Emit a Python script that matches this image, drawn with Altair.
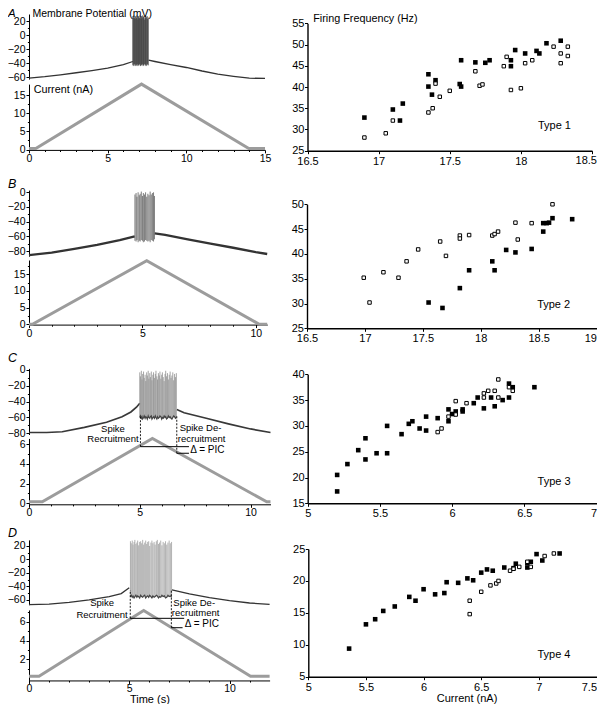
import altair as alt
import pandas as pd

FONT = "Liberation Sans"
W, H = 589, 696
M = 8  # page margin: page px -> chart px

# ======================= DATA =======================
# Membrane potential baseline before / after the burst (time s, mV)
A_pre_t = [0, 1, 2, 3, 4, 5, 6, 6.6]
A_pre_v = [-61, -59, -56.5, -53.5, -50.5, -47, -42, -37.5]
A_post_t = [7.6, 8, 9, 10, 11, 12, 13, 14, 15]
A_post_v = [-35.5, -37.5, -42, -46, -51, -55.3, -58.5, -61.2, -61.5]
B_pre_t = [0, 1, 2, 3, 4, 4.66]
B_pre_v = [-85.5, -82, -77, -71.5, -65, -60]
B_post_t = [5.54, 6, 7, 8, 9, 10, 10.5]
B_post_v = [-56, -58, -64, -70, -75.5, -81.5, -84]
C_pre_t = [0, 0.8, 1.5, 2.5, 3.5, 4.2, 4.6, 4.85, 5.0]
C_pre_v = [-79, -79, -78, -72.5, -66, -59, -53, -47, -42]
C_post_t = [6.67, 7, 8, 9, 10, 10.9]
C_post_v = [-50, -54, -61, -68, -74.5, -79]
D_pre_t = [0, 1, 2, 3, 4, 4.6, 5.0]
D_pre_v = [-67, -66, -63.5, -60, -55, -50.5, -42]
D_post_t = [7.13, 8, 9, 10, 11, 12]
D_post_v = [-45, -51, -56.5, -61, -64.5, -66.5]

# Spikes: time (s), peak (mV), trough (mV)
A_sp_t = [6.60, 6.63, 6.66, 6.70, 6.73, 6.76, 6.79, 6.83, 6.86, 6.89, 6.92, 6.96, 6.99, 7.02, 7.05, 7.09,
          7.12, 7.15, 7.18, 7.22, 7.25, 7.28, 7.31, 7.35, 7.38, 7.41, 7.44, 7.48, 7.51, 7.54, 7.58]
A_sp_pk = [27, 25, 28, 24, 26, 27, 23, 25, 28, 26, 22, 27, 25, 24, 28, 26, 23, 27, 25, 28,
           24, 26, 27, 22, 25, 28, 24, 26, 27, 23, 25]
A_sp_tr = [-43, -42, -44, -41, -43, -42, -44, -43, -41, -42, -44, -43, -42, -41, -43, -44, -42, -43, -41, -42,
           -44, -43, -42, -41, -43, -42, -44, -43, -41, -42, -43]
B_sp_t = [4.67, 4.72, 4.76, 4.81, 4.86, 4.90, 4.95, 5.00, 5.04, 5.09, 5.14, 5.19, 5.24, 5.29, 5.34, 5.39,
          5.44, 5.49, 5.53]
B_sp_pk = [-3, -1, -6, 0, -4, -2, 1, -5, -1, -3, 0, -6, -2, -4, 1, -3, -1, 0, -5]
B_sp_tr = [-66, -67, -65, -68, -66, -67, -65, -66, -68, -67, -65, -66, -67, -66, -68, -65, -66, -67, -64]
C_sp_t = [5.00, 5.03, 5.07, 5.10, 5.13, 5.17, 5.20, 5.24, 5.27, 5.31, 5.34, 5.38, 5.41, 5.45, 5.48, 5.52,
          5.55, 5.59, 5.62, 5.66, 5.70, 5.73, 5.77, 5.80, 5.84, 5.88, 5.91, 5.95, 5.99, 6.02, 6.06, 6.10,
          6.14, 6.17, 6.21, 6.25, 6.29, 6.33, 6.37, 6.41, 6.45, 6.49, 6.53, 6.57, 6.61, 6.65]
C_sp_pk = [-3, -8, -1, -12, -5, -2, -10, -6, -14, -3, -7, -1, -11, -4, -9, -2, -13, -6, -3, -10,
           -5, -1, -8, -12, -4, -7, -2, -11, -6, -3, -9, -14, -5, -1, -8, -4, -12, -6, -2, -10,
           -7, -3, -13, -5, -9, -4]
C_sp_tr = [-60, -58, -61, -59, -62, -60, -58, -61, -59, -60, -62, -58, -60, -61, -59, -58, -62, -60, -59, -61,
           -58, -60, -62, -59, -61, -60, -58, -59, -62, -60, -61, -58, -60, -59, -62, -61, -58, -60, -59, -61,
           -62, -60, -58, -59, -61, -60]
D_sp_t = [5.06, 5.10, 5.15, 5.19, 5.24, 5.28, 5.33, 5.38, 5.42, 5.47, 5.52, 5.57, 5.62, 5.67, 5.72, 5.77,
          5.82, 5.87, 5.92, 5.97, 6.02, 6.08, 6.13, 6.18, 6.24, 6.29, 6.35, 6.40, 6.46, 6.51, 6.57, 6.63,
          6.69, 6.75, 6.81, 6.87, 6.93, 6.99, 7.05, 7.11]
D_sp_pk = [27, 24, 28, 22, 26, 29, 23, 25, 28, 21, 26, 27, 24, 29, 22, 25, 28, 23, 26, 27,
           20, 25, 28, 24, 26, 22, 27, 29, 23, 25, 28, 21, 26, 24, 27, 22, 25, 28, 24, 26]
D_sp_tr = [-55, -53, -56, -54, -57, -55, -53, -56, -54, -55, -57, -53, -55, -56, -54, -53, -57, -55, -54, -56,
           -53, -55, -57, -54, -56, -55, -53, -54, -57, -55, -56, -53, -55, -54, -57, -56, -53, -55, -54, -56]

# Injected current ramps (time s, nA)
A_ramp_t = [0, 0.43, 7.15, 13.97, 15]
A_ramp_i = [0.3, 0.3, 18.0, 0.3, 0.3]
B_ramp_t = [0, 0.15, 5.19, 10.15, 10.5]
B_ramp_i = [0, 0, 19.1, 0, 0]
C_ramp_t = [0, 0.6, 5.57, 10.73, 10.9]
C_ramp_i = [0.15, 0.15, 6.6, 0.15, 0.15]
D_ramp_t = [0, 0.5, 5.72, 11.05, 12]
D_ramp_i = [0.2, 0.2, 7.2, 0.2, 0.2]

# Recruitment annotations (time s, current nA)
C_dash_t = [5.03, 6.67]
C_dash_lo = [5.76, 5.09]
C_dash_hi = [8.98, 8.98]
C_hl_t = [5.03, 6.67]
C_hl_t2 = [7.22, 7.22]
C_hl_i = [5.76, 5.09]
C_lab = ["Spike", "Recruitment", "Spike De-", "recruitment"]
C_lab_t = [3.79, 3.79, 7.74, 7.79]
C_lab_i = [7.53, 6.51, 7.63, 6.57]
C_pic_t = [7.28]
C_pic_i = [5.42]
D_dash_t = [5.05, 7.10]
D_dash_lo = [6.36, 5.36]
D_dash_hi = [9.37, 9.37]
D_hl_t = [5.05, 7.10]
D_hl_t2 = [7.74, 7.66]
D_hl_i = [6.36, 5.36]
D_lab = ["Spike", "Recruitment", "Spike De-", "recruitment"]
D_lab_t = [3.645, 3.645, 8.24, 8.31]
D_lab_i = [7.96, 6.74, 8.0, 6.92]
D_pic_t = [7.77]
D_pic_i = [5.8]

# f-I relations: current (nA) vs firing frequency (Hz); filled = ascending, open = descending ramp
A_fill_x = [16.90, 17.10, 17.15, 17.17, 17.35, 17.35, 17.375, 17.40, 17.57, 17.58, 17.58, 17.68, 17.75, 17.78,
            17.93, 17.93, 17.96, 18.03, 18.11, 18.13, 18.18, 18.28]
A_fill_y = [32.8, 34.7, 32.1, 36.1, 43.0, 40.1, 38.2, 41.6, 40.7, 46.3, 40.1, 45.8, 45.7, 46.3,
            46.3, 44.9, 48.7, 47.9, 48.5, 47.9, 50.3, 50.9]
A_open_x = [16.90, 17.05, 17.10, 17.35, 17.38, 17.40, 17.43, 17.50, 17.68, 17.71, 17.73, 17.88, 17.90, 17.93,
            18.00, 18.03, 18.08, 18.23, 18.28, 18.28, 18.33, 18.33]
A_open_y = [28.1, 29.1, 32.1, 34.0, 35.0, 40.8, 37.7, 39.1, 43.7, 40.3, 40.6, 44.9, 47.1, 39.3,
            39.7, 45.6, 46.3, 49.5, 47.9, 45.6, 49.5, 47.3]
B_fill_x = [17.55, 17.67, 17.82, 17.90, 18.10, 18.12, 18.22, 18.30, 18.44, 18.54, 18.54, 18.57, 18.59, 18.62, 18.79]
B_fill_y = [30.2, 29.1, 33.1, 36.7, 38.5, 36.7, 40.8, 40.3, 41.0, 44.5, 46.2, 46.2, 46.3, 47.2, 47.0]
B_open_x = [16.99, 17.04, 17.16, 17.29, 17.36, 17.46, 17.65, 17.70, 17.82, 17.82, 17.90, 18.10, 18.12, 18.15,
            18.30, 18.32, 18.44, 18.62]
B_open_y = [35.2, 30.2, 36.3, 35.2, 38.5, 40.9, 42.5, 39.6, 43.7, 43.1, 43.8, 43.7, 44.0, 44.5,
            46.3, 42.9, 46.2, 50.0]
C_fill_x = [5.204, 5.204, 5.275, 5.35, 5.40, 5.40, 5.477, 5.55, 5.55, 5.65, 5.70, 5.725, 5.775, 5.82, 5.82, 5.90,
            5.975, 5.975, 6.00, 6.025, 6.073, 6.073, 6.15, 6.177, 6.22, 6.27, 6.295, 6.35, 6.394, 6.394, 6.42, 6.57]
C_fill_y = [17.3, 20.5, 22.6, 25.3, 27.6, 23.5, 24.7, 30.0, 24.7, 28.4, 30.4, 30.9, 29.5, 31.8, 29.1, 31.5,
            33.2, 30.9, 32.3, 32.8, 33.2, 32.8, 34.4, 35.5, 33.4, 35.5, 33.8, 35.0, 38.2, 35.5, 37.5, 37.5]
C_open_x = [5.90, 5.927, 5.975, 6.025, 6.025, 6.10, 6.22, 6.22, 6.25, 6.295, 6.32, 6.32, 6.394, 6.42]
C_open_y = [28.8, 29.5, 31.8, 32.2, 34.8, 34.4, 36.3, 35.5, 36.8, 36.8, 39.0, 35.5, 37.5, 36.8]
D_fill_x = [5.354, 5.50, 5.58, 5.65, 5.75, 5.876, 5.93, 6.00, 6.10, 6.18, 6.20, 6.30, 6.38, 6.43, 6.50, 6.55,
            6.60, 6.70, 6.78, 6.80, 6.90, 6.90, 6.93, 6.98, 7.03, 7.18]
D_fill_y = [9.4, 13.2, 14.0, 15.3, 16.0, 17.5, 16.9, 18.7, 17.9, 18.1, 19.8, 19.7, 20.4, 20.1, 21.3, 21.8,
            21.6, 22.1, 22.0, 22.7, 22.1, 22.8, 23.0, 24.2, 23.2, 24.3]
D_open_x = [6.40, 6.40, 6.50, 6.58, 6.63, 6.65, 6.75, 6.78, 6.83, 6.90, 6.93, 7.05, 7.13]
D_open_y = [14.8, 16.9, 18.3, 19.3, 19.6, 20.0, 21.6, 21.9, 22.2, 23.0, 22.2, 23.9, 24.3]

# Tick values
A_v_ticks, A_v_minor = [-60, -40, -20, 0, 20], [-50, -30, -10, 10]
B_v_ticks, B_v_minor = [-80, -60, -40, -20, 0], [-70, -50, -30, -10]
C_v_ticks, C_v_minor = [-80, -60, -40, -20, 0], [-70, -50, -30, -10]
D_v_ticks, D_v_minor = [-60, -40, -20, 0, 20], [-50, -30, -10, 10]
A_i_ticks, A_i_minor = [0, 5, 10, 15], [2.5, 7.5, 12.5]
B_i_ticks, B_i_minor = [0, 5, 10, 15], [2.5, 7.5, 12.5, 17.5]
C_i_ticks, C_i_minor = [0, 2, 4, 6], [1, 3, 5]
D_i_ticks, D_i_minor = [2, 4, 6], [1, 3, 5, 7]
A_t_ticks, A_t_minor = [0, 5, 10, 15], [1, 2, 3, 4, 6, 7, 8, 9, 11, 12, 13, 14]
B_t_ticks, B_t_minor = [0, 5, 10], [1, 2, 3, 4, 6, 7, 8, 9]
C_t_ticks, C_t_minor = [0, 5, 10], [1, 2, 3, 4, 6, 7, 8, 9]
D_t_ticks, D_t_minor = [0, 5, 10], [1, 2, 3, 4, 6, 7, 8, 9, 11]
A_fx_ticks, A_fy_ticks = [16.5, 17, 17.5, 18, 18.5], [25, 30, 35, 40, 45, 50, 55]
B_fx_ticks, B_fy_ticks = [16.5, 17, 17.5, 18, 18.5, 19], [25, 30, 35, 40, 45, 50]
C_fx_ticks, C_fy_ticks = [5, 5.5, 6, 6.5, 7], [15, 20, 25, 30, 35, 40]
D_fx_ticks, D_fy_ticks = [5, 5.5, 6, 6.5, 7, 7.5], [5, 10, 15, 20, 25]

# ======================= LAYOUT (page pixels) =======================
LEFT = {
    "A": dict(t=[0, 15], tx=[29, 265], v=[-62.5, 30], vy=[79.1, 14.0], i=[-0.1, 18], iy=[149.9, 84.1]),
    "B": dict(t=[0, 10.5], tx=[29, 267.2], v=[-87, 3], vy=[256.2, 190.1], i=[-0.1, 19.3], iy=[324.6, 260.0]),
    "C": dict(t=[0, 10.9], tx=[29, 270.5], v=[-81.5, 2], vy=[434.5, 368.4], i=[-0.1, 6.6], iy=[504.3, 438.4]),
    "D": dict(t=[0, 12], tx=[29, 269.6], v=[-67, 29], vy=[604.7, 539.9], i=[-0.25, 7.25], iy=[680.45, 609.95]),
}
RIGHT = {
    "A": dict(x=[16.5, 18.5], px=[307.5, 592], y=[25, 55], py=[150.7, 23.3], pad=1.5),
    "B": dict(x=[16.5, 19], px=[307, 596.5], y=[25, 50], py=[328.3, 204.3], pad=1.5),
    "C": dict(x=[5, 7], px=[307.7, 596.5], y=[15, 40], py=[503.3, 374.3], pad=1.5),
    "D": dict(x=[5, 7.5], px=[308.3, 596.5], y=[5, 25], py=[676.7, 549], pad=2),
}

LABEL = "replace(datum.value + '', '-', '\u2212')"


def sc(domain, rng):
    return alt.Scale(domain=domain, range=[r - M for r in rng], zero=False, nice=False)


def _axis(orient, values, offset, minor, fs, pad, size, dw, expr):
    kw = dict(orient=orient, offset=offset, values=values, title=None, grid=False,
              tickSize=size, tickColor="black", tickWidth=1, domainColor="black", domainWidth=dw,
              labelColor="black", labelFont=FONT, labelFontSize=fs, labelPadding=pad,
              labelOverlap=False, labelFlush=False, labelExpr=expr or LABEL)
    if minor:
        kw.update(labels=False, domain=False, tickSize=1.6)
    return alt.Axis(**kw)


def y_axis(values, page_x, minor=False, fs=11, pad=1, size=3, dw=1, expr=None):
    return _axis("left", values, -(page_x - M), minor, fs, pad, size, dw, expr)


def x_axis(values, page_y, minor=False, fs=11, pad=1, size=3, dw=1, expr=None):
    return _axis("bottom", values, (page_y - M) - H, minor, fs, pad, size, dw, expr)


def texts(xs, ys, labels, xsc, ysc, align="center", fs=11, baseline="middle", dx=0, dy=0):
    df = pd.DataFrame({"x": xs, "y": ys, "s": labels})
    return alt.Chart(df).mark_text(align=align, baseline=baseline, fontSize=fs, font=FONT, color="black",
                                   dx=dx, dy=dy).encode(
        x=alt.X("x:Q", scale=xsc, axis=None), y=alt.Y("y:Q", scale=ysc, axis=None), text="s:N")


def left_panel(P, pre_t, pre_v, post_t, post_v, sp_t, sp_pk, sp_tr, r_t, r_i,
               v_ticks, v_minor, i_ticks, i_minor, t_ticks, t_minor, vm_color, vm_width, sp_color, trough):
    g = LEFT[P]
    tsc, vsc, isc = sc(g["t"], g["tx"]), sc(g["v"], g["vy"]), sc(g["i"], g["iy"])
    ax_x, ax_y = g["tx"][0], g["iy"][0]
    out = []
    ramp = pd.DataFrame({"t": r_t, "i": r_i})
    out.append(alt.Chart(ramp).mark_line(color="#9c9c9c", strokeWidth=3).encode(
        x=alt.X("t:Q", scale=tsc, axis=x_axis(t_ticks, ax_y, fs=10.5, pad=0.5)),
        y=alt.Y("i:Q", scale=isc, axis=y_axis(i_ticks, ax_x, fs=10.5, pad=1))))
    out.append(alt.Chart(ramp).mark_line(opacity=0).encode(
        x=alt.X("t:Q", scale=tsc, axis=x_axis(t_minor, ax_y, minor=True)),
        y=alt.Y("i:Q", scale=isc, axis=y_axis(i_minor, ax_x, minor=True))))
    vm = pd.DataFrame({"t": pre_t + post_t, "v": pre_v + post_v,
                       "seg": ["pre"] * len(pre_t) + ["post"] * len(post_t)})
    out.append(alt.Chart(vm).mark_line(color=vm_color, strokeWidth=vm_width).encode(
        x=alt.X("t:Q", scale=tsc, axis=None),
        y=alt.Y("v:Q", scale=vsc, axis=y_axis(v_ticks, ax_x, fs=10.5, pad=1)),
        detail="seg:N"))
    out.append(alt.Chart(vm).mark_line(opacity=0).encode(
        x=alt.X("t:Q", scale=tsc, axis=None),
        y=alt.Y("v:Q", scale=vsc, axis=y_axis(v_minor, ax_x, minor=True)),
        detail="seg:N"))
    sp = pd.DataFrame({"t": sp_t, "lo": sp_tr, "hi": sp_pk})
    out.append(alt.Chart(sp).mark_rule(color=sp_color, strokeWidth=0.9, opacity=0.85).encode(
        x=alt.X("t:Q", scale=tsc, axis=None),
        y=alt.Y("lo:Q", scale=vsc, axis=None), y2="hi:Q"))
    if trough:
        out.append(alt.Chart(sp).mark_line(color="#444444", strokeWidth=1.2).encode(
            x=alt.X("t:Q", scale=tsc, axis=None), y=alt.Y("lo:Q", scale=vsc, axis=None)))
    return out, tsc, vsc, isc


def annotations(tsc, isc, dash_t, dash_lo, dash_hi, hl_t, hl_t2, hl_i, lab, lab_t, lab_i, pic_t, pic_i):
    out = []
    d = pd.DataFrame({"t": dash_t, "lo": dash_lo, "hi": dash_hi})
    out.append(alt.Chart(d).mark_rule(color="black", strokeWidth=0.9, strokeDash=[2, 1.5]).encode(
        x=alt.X("t:Q", scale=tsc, axis=None), y=alt.Y("lo:Q", scale=isc, axis=None), y2="hi:Q"))
    h = pd.DataFrame({"t": hl_t, "t2": hl_t2, "i": hl_i})
    out.append(alt.Chart(h).mark_rule(color="black", strokeWidth=1).encode(
        x=alt.X("t:Q", scale=tsc, axis=None), x2="t2:Q", y=alt.Y("i:Q", scale=isc, axis=None)))
    out.append(texts(lab_t, lab_i, lab, tsc, isc, align="center", fs=9.5))
    out.append(texts(pic_t, pic_i, ["\u0394 = PIC"], tsc, isc, align="left", fs=10))
    return out


def right_panel(P, fx, fy, ox, oy, x_ticks, y_ticks, type_label, type_xy):
    g = RIGHT[P]
    xsc, ysc = sc(g["x"], g["px"]), sc(g["y"], g["py"])
    last = x_ticks[-1]
    expr = "datum.value >= %s ? '' : (datum.value + '')" % (last - 0.001)
    out = []
    out.append(alt.Chart(pd.DataFrame({"x": fx, "y": fy})).mark_square(
        size=21, color="black", opacity=1).encode(
        x=alt.X("x:Q", scale=xsc, axis=x_axis(x_ticks, g["py"][0], pad=g["pad"], dw=1.4, expr=expr)),
        y=alt.Y("y:Q", scale=ysc, axis=y_axis(y_ticks, g["px"][0], pad=0.5, dw=1.4))))
    out.append(alt.Chart(pd.DataFrame({"x": ox, "y": oy})).mark_square(
        size=12, fill="white", stroke="black", strokeWidth=1, opacity=1).encode(
        x=alt.X("x:Q", scale=xsc, axis=None), y=alt.Y("y:Q", scale=ysc, axis=None)))
    out.append(texts([type_xy[0]], [type_xy[1]], [type_label], xsc, ysc, align="center", fs=11))
    # last tick label kept inside the page edge
    out.append(texts([last], [g["y"][0]], [("%g" % last)], xsc, ysc, align="right", fs=11,
                     baseline="top", dx=597 - g["px"][1], dy=3 + g["pad"]))
    return out, xsc, ysc


layers = []

la, tA, vA, iA = left_panel("A", A_pre_t, A_pre_v, A_post_t, A_post_v, A_sp_t, A_sp_pk, A_sp_tr,
                            A_ramp_t, A_ramp_i, A_v_ticks, A_v_minor, A_i_ticks, A_i_minor,
                            A_t_ticks, A_t_minor, "#333333", 1.3, "#3a3a3a", False)
layers += la
layers.append(texts([0.22], [26.1], ["Membrane Potential (mV)"], tA, vA, align="left", fs=10.5,
                    baseline="alphabetic"))
layers.append(texts([0.3], [16.38], ["Current (nA)"], tA, iA, align="left", fs=10.8))

lb, tB, vB, iB = left_panel("B", B_pre_t, B_pre_v, B_post_t, B_post_v, B_sp_t, B_sp_pk, B_sp_tr,
                            B_ramp_t, B_ramp_i, B_v_ticks, B_v_minor, B_i_ticks, B_i_minor,
                            B_t_ticks, B_t_minor, "#333333", 2.3, "#555555", False)
layers += lb

lc, tC, vC, iC = left_panel("C", C_pre_t, C_pre_v, C_post_t, C_post_v, C_sp_t, C_sp_pk, C_sp_tr,
                            C_ramp_t, C_ramp_i, C_v_ticks, C_v_minor, C_i_ticks, C_i_minor,
                            C_t_ticks, C_t_minor, "#383838", 1.7, "#8a8a8a", True)
layers += lc
layers += annotations(tC, iC, C_dash_t, C_dash_lo, C_dash_hi, C_hl_t, C_hl_t2, C_hl_i,
                      C_lab, C_lab_t, C_lab_i, C_pic_t, C_pic_i)

ld, tD, vD, iD = left_panel("D", D_pre_t, D_pre_v, D_post_t, D_post_v, D_sp_t, D_sp_pk, D_sp_tr,
                            D_ramp_t, D_ramp_i, D_v_ticks, D_v_minor, D_i_ticks, D_i_minor,
                            D_t_ticks, D_t_minor, "#333333", 1.3, "#9a9a9a", True)
layers += ld
layers += annotations(tD, iD, D_dash_t, D_dash_lo, D_dash_hi, D_hl_t, D_hl_t2, D_hl_i,
                      D_lab, D_lab_t, D_lab_i, D_pic_t, D_pic_i)
layers.append(texts([6.03], [-2.6], ["Time (s)"], tD, iD, align="center", fs=11, baseline="alphabetic"))

ra, xA, yA = right_panel("A", A_fill_x, A_fill_y, A_open_x, A_open_y, A_fx_ticks, A_fy_ticks,
                         "Type 1", (18.236, 30.8))
layers += ra
layers.append(texts([16.54], [56.0], ["Firing Frequency (Hz)"], xA, yA, align="left", fs=10.8))
rb, xB, yB = right_panel("B", B_fill_x, B_fill_y, B_open_x, B_open_y, B_fx_ticks, B_fy_ticks,
                         "Type 2", (18.63, 29.7))
layers += rb
rc, xC, yC = right_panel("C", C_fill_x, C_fill_y, C_open_x, C_open_y, C_fx_ticks, C_fy_ticks,
                         "Type 3", (6.706, 19.2))
layers += rc
rd, xD, yD = right_panel("D", D_fill_x, D_fill_y, D_open_x, D_open_y, D_fx_ticks, D_fy_ticks,
                         "Type 4", (7.131, 8.4))
layers += rd
layers.append(texts([6.377], [0.97], ["Current (nA)"], xD, yD, align="center", fs=11, baseline="alphabetic"))

# panel letters
for s, base, fs in zip(["A", "B", "C", "D"], [17.0, 188, 362, 537], [11.5, 12.5, 12.5, 12.5]):
    layers.append(alt.Chart(pd.DataFrame({"s": [s]})).mark_text(
        align="left", baseline="alphabetic", fontSize=fs, fontStyle="italic", font=FONT, color="black").encode(
        x=alt.value(0.0), y=alt.value(base - M), text="s:N"))

chart = alt.layer(*layers).resolve_scale(x="independent", y="independent").properties(
    width=W, height=H, autosize=alt.AutoSizeParams(type="none"), padding=0
).configure(font=FONT).configure_view(stroke=None)

chart.save("out.html", embed_options={"renderer": "svg", "actions": False})
